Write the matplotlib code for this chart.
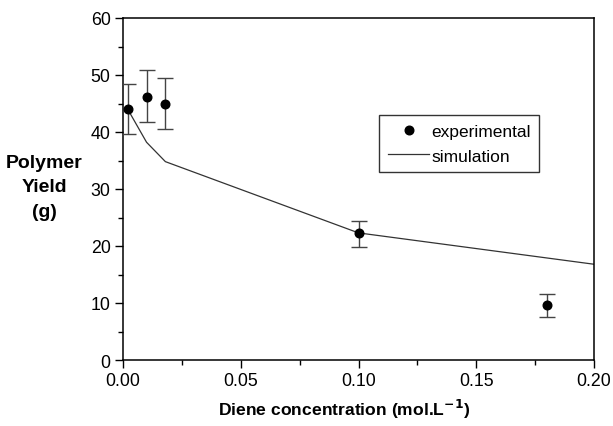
import matplotlib
matplotlib.use("Agg")
import matplotlib.pyplot as plt
from matplotlib.ticker import MultipleLocator

plt.rcParams['font.family'] = ['Liberation Sans', 'DejaVu Sans']

# Experimental data
exp_x = [0.002, 0.010, 0.018, 0.100, 0.180]
exp_y = [44.0, 46.2, 45.0, 22.2, 9.6]
exp_lo = [39.6, 41.7, 40.5, 19.9, 7.6]
exp_hi = [48.4, 50.8, 49.5, 24.3, 11.6]

# Simulation curve
sim_x = [0.002, 0.010, 0.018, 0.100, 0.200]
sim_y = [44.0, 38.2, 34.8, 22.3, 16.8]

xticks = [0.00, 0.05, 0.10, 0.15, 0.20]
xtick_labels = ["0.00", "0.05", "0.10", "0.15", "0.20"]
yticks = [0, 10, 20, 30, 40, 50, 60]

W, H = 613, 427
fig = plt.figure(figsize=(W / 100, H / 100), dpi=100)
ax = fig.add_axes([123 / W, 1 - 361 / H, (594 - 123) / W, (361 - 19) / H])

yerr = [[y - lo for y, lo in zip(exp_y, exp_lo)], [hi - y for y, hi in zip(exp_y, exp_hi)]]
sim_line, = ax.plot(sim_x, sim_y, color='#333333', lw=0.9, label='simulation', zorder=2)
eb = ax.errorbar(exp_x, exp_y, yerr=yerr, fmt='o', color='black', ms=6.2,
                 ecolor='#444444', elinewidth=1.0, capsize=5.5, capthick=1.0,
                 label='experimental', zorder=3)

ax.set_xlim(0, 0.20)
ax.set_ylim(0, 60)
ax.set_xticks(xticks)
ax.set_xticklabels(xtick_labels)
ax.set_yticks(yticks)
ax.xaxis.set_minor_locator(MultipleLocator(0.025))
ax.yaxis.set_minor_locator(MultipleLocator(5))
ax.tick_params(which='major', direction='out', length=6, width=1, labelsize=12.8, pad=3)
ax.tick_params(which='minor', direction='out', length=3.5, width=1)
for s in ax.spines.values():
    s.set_linewidth(1.1)

leg = ax.legend([eb[0], sim_line], ['experimental', 'simulation'],
                loc='upper left', bbox_to_anchor=((379 - 123) / 471, (361 - 116) / 342),
                frameon=True, fancybox=False, edgecolor='black', fontsize=12.5,
                handlelength=2.4, handletextpad=0.1, borderpad=0.5, borderaxespad=0,
                labelspacing=0.55)
leg.get_frame().set_linewidth(1.0)

fig.text(44 / W, 1 - 188 / H, "Polymer\nYield\n(g)", ha='center', va='center',
         fontsize=14, fontweight='bold', linespacing=1.6)
fig.text(344 / W, 1 - 409 / H, r"Diene concentration (mol.L$^{\mathbf{-1}}$)",
         ha='center', va='center', fontsize=12.6, fontweight='bold')

fig.savefig("out.png", dpi=100)
